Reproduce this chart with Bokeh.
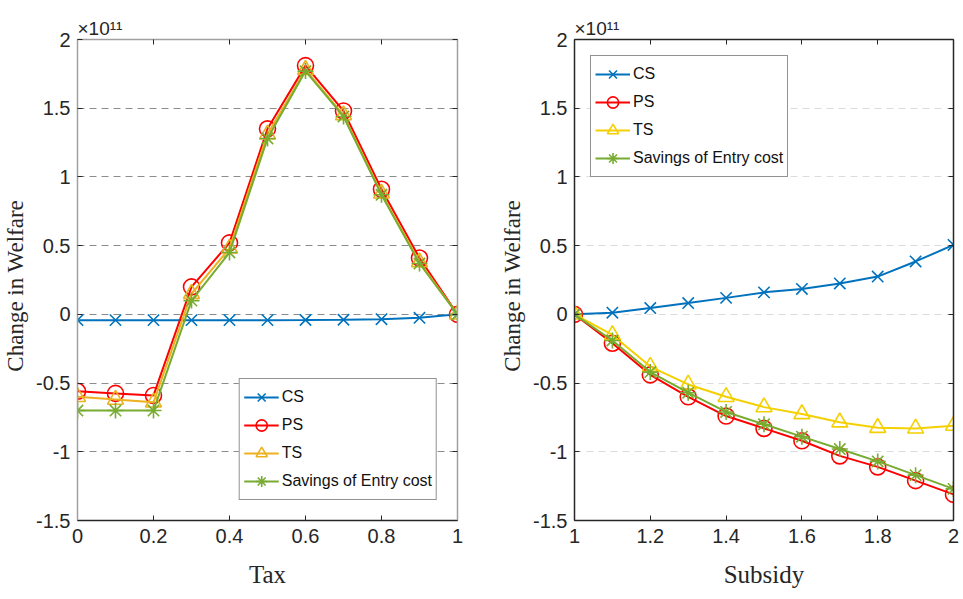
from bokeh.plotting import figure
from bokeh.models import (LinearAxis, FixedTicker, CustomJSTickFormatter, Legend, LegendItem,
                          Title, Range1d, Grid)
from bokeh.layouts import row
from bokeh.embed import file_html
from bokeh.resources import INLINE

# ---------------- data (units of 1e11) ----------------
tax = [0.0, 0.1, 0.2, 0.3, 0.4, 0.5, 0.6, 0.7, 0.8, 0.9, 1.0]
tax_cs = [-0.042, -0.042, -0.042, -0.042, -0.042, -0.042, -0.041, -0.039, -0.035, -0.025, 0.0]
tax_ps = [-0.56, -0.575, -0.59, 0.2, 0.52, 1.35, 1.81, 1.48, 0.91, 0.41, 0.0]
tax_ts = [-0.6, -0.62, -0.64, 0.15, 0.48, 1.31, 1.78, 1.45, 0.88, 0.38, 0.0]
tax_sav = [-0.7, -0.7, -0.7, 0.1, 0.45, 1.28, 1.77, 1.44, 0.87, 0.37, 0.0]

subsidy = [1.0, 1.1, 1.2, 1.3, 1.4, 1.5, 1.6, 1.7, 1.8, 1.9, 2.0]
sub_cs = [0.0, 0.012, 0.046, 0.082, 0.12, 0.16, 0.185, 0.225, 0.275, 0.385, 0.505]
sub_ps = [0.0, -0.21, -0.44, -0.6, -0.74, -0.83, -0.92, -1.03, -1.11, -1.21, -1.31]
sub_ts = [0.0, -0.15, -0.38, -0.51, -0.6, -0.675, -0.725, -0.785, -0.825, -0.83, -0.81]
sub_sav = [0.0, -0.19, -0.42, -0.57, -0.71, -0.8, -0.89, -0.98, -1.07, -1.17, -1.27]

series_names = ["CS", "PS", "TS", "Savings of Entry cost"]
scale_text = "×10¹¹"

y_ticks = [-1.5, -1.0, -0.5, 0.0, 0.5, 1.0, 1.5, 2.0]
y_tick_labels = ["-1.5", "-1", "-0.5", "0", "0.5", "1", "1.5", "2"]
tax_ticks = [0.0, 0.2, 0.4, 0.6, 0.8, 1.0]
tax_tick_labels = ["0", "0.2", "0.4", "0.6", "0.8", "1"]
sub_ticks = [1.0, 1.2, 1.4, 1.6, 1.8, 2.0]
sub_tick_labels = ["1", "1.2", "1.4", "1.6", "1.8", "2"]

TICK_FONT = "'Liberation Sans Narrow', 'Liberation Sans', sans-serif"
SERIF = "'Liberation Serif', serif"


def fmt(ticks, labels):
    return CustomJSTickFormatter(args=dict(t=ticks, l=labels), code="""
        for (let i = 0; i < t.length; i++) { if (Math.abs(tick - t[i]) < 1e-9) return l[i]; }
        return '';
    """)


def make_fig(xs, ys_list, colors, xr, xticks, xlabels, xtitle, border_left, border_right,
             grid_color, frame_color, legend_loc, legend_margin, frame_w):
    p = figure(frame_width=frame_w, frame_height=481, output_backend="svg", toolbar_location=None,
               x_range=Range1d(*xr), y_range=Range1d(-1.5, 2.0),
               min_border_left=border_left, min_border_right=border_right,
               min_border_top=39, min_border_bottom=75, x_axis_type=None, y_axis_type=None,
               outline_line_color=None, background_fill_color="white", border_fill_color="white")

    xb = LinearAxis(ticker=FixedTicker(ticks=xticks), formatter=fmt(xticks, xlabels),
                    axis_label=xtitle)
    yl = LinearAxis(ticker=FixedTicker(ticks=y_ticks), formatter=fmt(y_ticks, y_tick_labels),
                    axis_label="Change  in  Welfare")
    xt = LinearAxis(ticker=FixedTicker(ticks=xticks))
    yr = LinearAxis(ticker=FixedTicker(ticks=y_ticks))
    for ax, col in ((xb, "#262626"), (yl, frame_color[0]), (xt, frame_color[1]), (yr, frame_color[2])):
        ax.major_tick_in = 5
        ax.major_tick_out = 0
        ax.minor_tick_line_color = None
        ax.axis_line_color = col
        ax.axis_line_width = 1.5
        ax.major_tick_line_color = "#262626"
        ax.major_tick_line_width = 1
        ax.major_label_text_font = TICK_FONT
        ax.major_label_text_font_size = "20px"
        ax.major_label_text_color = "#262626"
        ax.axis_label_text_font = SERIF
        ax.axis_label_text_font_style = "normal"
        ax.axis_label_text_font_size = "25px"
        ax.axis_label_text_color = "#262626"
    for ax in (xt, yr):
        ax.major_label_text_color = None
        ax.major_label_standoff = 0
    yl.axis_label_text_font_size = "23px"
    xb.major_label_standoff = 8
    xb.axis_label_standoff = 15
    yl.major_label_standoff = 7
    yl.axis_label_standoff = 5
    p.add_layout(xb, "below")
    p.add_layout(yl, "left")
    p.add_layout(xt, "above")
    p.add_layout(yr, "right")

    g = Grid(dimension=1, ticker=FixedTicker(ticks=y_ticks[1:-1]), grid_line_color=grid_color,
             grid_line_dash="7 5", grid_line_width=1.2)
    p.add_layout(g)

    markers = ["x", "circle", "triangle", "asterisk"]
    items = []
    for name, ys, col, mk in zip(series_names, ys_list, colors, markers):
        ln = p.line(xs, ys, line_color=col, line_width=2)
        sc = p.scatter(xs, ys, marker=mk, size=16, line_color=col, fill_color=None, line_width=1.6)
        items.append(LegendItem(label=name, renderers=[ln, sc]))

    leg = Legend(items=items, location=legend_loc, margin=legend_margin,
                 border_line_color="#262626", border_line_width=1,
                 background_fill_color="white", background_fill_alpha=1,
                 label_text_font=TICK_FONT, label_text_font_size="16px",
                 label_text_color="#111111", label_height=28, glyph_height=28, glyph_width=35,
                 spacing=0, padding=4, label_standoff=3)
    p.add_layout(leg, "center")

    p.add_layout(Title(text=scale_text, align="left", offset=0, standoff=2,
                       text_font=TICK_FONT, text_font_size="19px", text_font_style="normal",
                       text_color="#262626"), "above")
    return p


p1 = make_fig(tax, [tax_cs, tax_ps, tax_ts, tax_sav],
              ["#0072BD", "#FF0000", "#EDB120", "#77AC30"], (0.0, 1.0),
              tax_ticks, tax_tick_labels, "Tax", 76, 20, "#8c8c8c",
              ("#a0a0a0", "#a0a0a0", "#a0a0a0"), "bottom_right", 20, 380)
p2 = make_fig(subsidy, [sub_cs, sub_ps, sub_ts, sub_sav],
              ["#0072BD", "#FF0000", "#F5D000", "#77AC30"], (1.0, 2.0),
              sub_ticks, sub_tick_labels, "Subsidy", 97, 10, "#dcdcdc",
              ("#262626", "#262626", "#262626"), "top_left", 16, 379)

layout = row(p1, p2)
open("out.html", "w").write(file_html(layout, INLINE))
